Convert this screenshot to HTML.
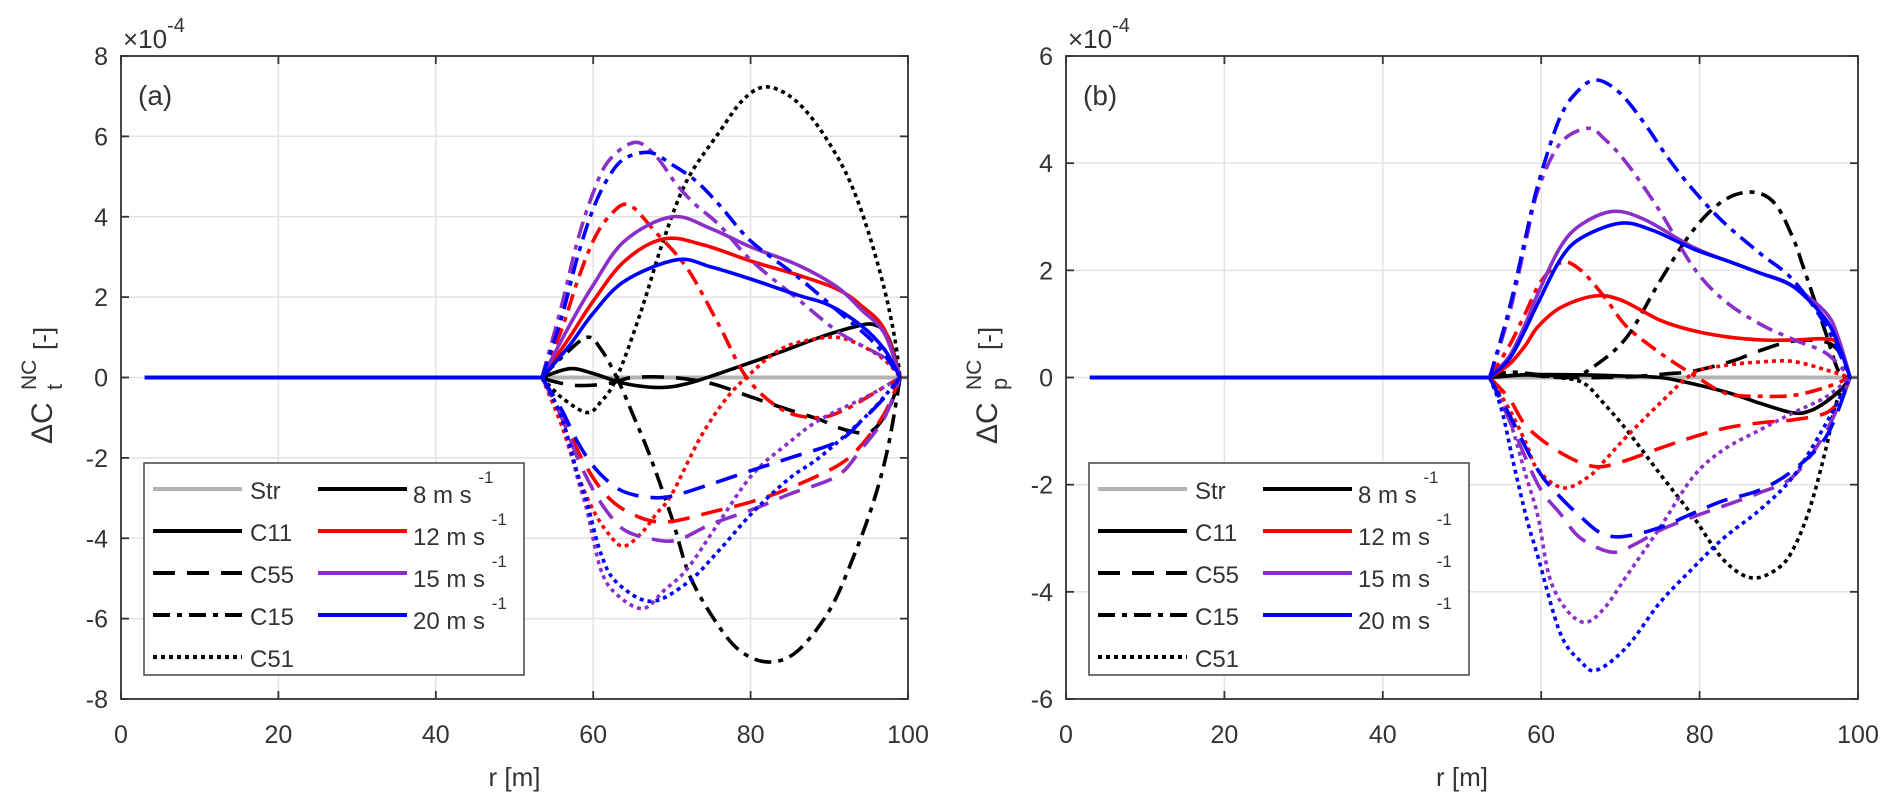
<!DOCTYPE html>
<html><head><meta charset="utf-8">
<style>
html,body{margin:0;padding:0;background:#fff;}
svg{display:block;}
text{font-family:"Liberation Sans",sans-serif;fill:#333;}
</style></head>
<body>
<svg id="fig" width="1892" height="809" viewBox="0 0 1892 809" xmlns="http://www.w3.org/2000/svg"></svg>
<script>
// ---------- data (values ×1e-4, r in m) ----------
const speeds = ["8", "12", "15", "20"];
const configs = ["C11", "C55", "C15", "C51"];
const xTicks = [0, 20, 40, 60, 80, 100];
const yTicksA = [-8, -6, -4, -2, 0, 2, 4, 6, 8];
const yTicksB = [-6, -4, -2, 0, 2, 4, 6];

// Panel (a) ΔCt
const a_C11_8  = [[53.5,0],[57,0.22],[60,0.1],[64,-0.15],[68.6,-0.25],[72,-0.15],[76,0.1],[80,0.37],[84,0.65],[88.8,1.0],[93,1.25],[95.6,1.32],[97.5,1.0],[99,0]];
const a_C11_12 = [[53.5,0],[57,1.0],[60,1.9],[64,2.9],[69,3.45],[74,3.3],[80,2.9],[86,2.55],[91,2.2],[94,1.8],[97,1.2],[99,0]];
const a_C11_15 = [[53.5,0],[57,1.3],[60,2.3],[64,3.4],[70,4.0],[75,3.7],[80,3.25],[86,2.8],[91,2.25],[94,1.7],[97,1.1],[99,0]];
const a_C11_20 = [[53.5,0],[57,0.8],[60,1.6],[64,2.4],[70.6,2.93],[75,2.75],[80,2.45],[86,2.05],[90,1.8],[94,1.3],[97,0.7],[99,0]];
const a_C55_8  = [[53.5,0],[55,-0.1],[58,-0.2],[62,-0.15],[65,0],[70,0],[75,-0.15],[80.3,-0.5],[84,-0.75],[88.8,-1.05],[92,-1.3],[95.2,-1.35],[97.5,-0.8],[99,0]];
const a_C55_12 = [[53.5,0],[56,-0.9],[58,-1.8],[60,-2.5],[62,-3.0],[64,-3.3],[67,-3.55],[70,-3.58],[75,-3.35],[80.3,-3.08],[85,-2.75],[91,-2.2],[94,-1.7],[97,-0.9],[99,0]];
const a_C55_15 = [[53.5,0],[56,-1.0],[58,-2.0],[60,-2.8],[62,-3.4],[64,-3.8],[67,-4.0],[70.6,-4.05],[75,-3.65],[80.3,-3.28],[85,-2.9],[91,-2.45],[94,-1.8],[97,-1.0],[99,0]];
const a_C55_20 = [[53.5,0],[56,-0.8],[58,-1.6],[60,-2.2],[62,-2.6],[64,-2.85],[67,-2.98],[70,-2.95],[75,-2.65],[80.3,-2.3],[85,-2.0],[91,-1.6],[94,-1.1],[97,-0.5],[99,0]];
const a_C15_8  = [[53.5,0],[56,0.5],[59.2,1.0],[61,0.7],[63,0],[65,-0.9],[67.3,-2.0],[70,-3.5],[72.3,-4.95],[76,-6.2],[79,-6.85],[82.5,-7.08],[86,-6.8],[90,-5.8],[93,-4.5],[95.6,-3.1],[97.5,-1.7],[99,0]];
const a_C15_12 = [[53.5,0],[56,1.2],[58,2.4],[60,3.4],[62,4.0],[64.5,4.3],[68,3.6],[72,2.7],[76,1.3],[79.5,0],[84,-0.8],[88.5,-1.0],[92,-0.8],[96,-0.35],[99,0]];
const a_C15_15 = [[53.5,0],[56,1.8],[58,3.4],[60,4.6],[62,5.4],[65.3,5.85],[68,5.5],[70.6,4.8],[73,4.3],[76,3.8],[80,2.93],[86,1.95],[91.4,1.1],[97.3,0.45],[99,0]];
const a_C15_20 = [[53.5,0],[56,1.5],[58,3.0],[60,4.2],[62,5.0],[64,5.45],[67.2,5.6],[70,5.3],[73,4.9],[76,4.3],[80,3.4],[86,2.5],[91.4,1.6],[96,0.8],[99,0]];
const a_C51_8  = [[53.5,0],[56,-0.5],[59.2,-0.87],[61,-0.6],[63,0],[66,1.6],[68.9,3.4],[71.9,4.9],[76,6.1],[79,6.9],[81.8,7.23],[85,7.0],[88,6.4],[91,5.5],[93,4.7],[95,3.6],[97,2.2],[98.3,1.0],[99,0]];
const a_C51_12 = [[53.5,0],[56,-1.2],[58,-2.4],[60,-3.3],[62,-3.9],[63.8,-4.2],[66,-3.9],[68,-3.4],[70,-2.9],[73.6,-1.5],[77,-0.5],[80,0.1],[83,0.6],[86,0.87],[91,1.0],[95,0.7],[97.5,0.35],[99,0]];
const a_C51_15 = [[53.5,0],[56,-1.0],[58,-2.5],[59.2,-3.3],[61,-4.8],[63,-5.4],[66.3,-5.75],[69,-5.3],[72,-4.75],[76,-3.6],[80.3,-2.4],[85,-1.6],[88.8,-1.05],[95,-0.45],[99,0]];
const a_C51_20 = [[53.5,0],[56,-1.0],[58,-2.4],[59.2,-3.1],[61,-4.4],[63,-5.1],[67.3,-5.57],[72,-5.1],[76,-4.3],[80.3,-3.35],[85,-2.5],[89,-1.95],[95,-0.9],[99,0]];

// Panel (b) ΔCp
const b_C11_8  = [[53.5,0],[58,0.05],[64,0.05],[70,0.03],[75,0],[79.2,-0.12],[84,-0.3],[87.6,-0.48],[91.8,-0.66],[94,-0.62],[96,-0.45],[98,-0.2],[99,0]];
const b_C11_12 = [[53.5,0],[56,0.25],[58,0.6],[59.6,0.95],[62.4,1.3],[66.6,1.52],[70,1.45],[75,1.07],[79,0.88],[83.4,0.76],[88,0.7],[92,0.7],[96,0.72],[97.5,0.6],[99,0]];
const b_C11_15 = [[53.5,0],[56,0.4],[58,1.0],[59.6,1.57],[62.4,2.43],[65,2.85],[69,3.1],[73,2.95],[79.2,2.43],[84,2.15],[87.6,1.95],[91.8,1.7],[96,1.2],[97.6,0.7],[99,0]];
const b_C11_20 = [[53.5,0],[56,0.35],[58,0.9],[59.6,1.39],[62.4,2.2],[65,2.6],[70,2.88],[74,2.75],[79.2,2.4],[84,2.15],[87.6,1.95],[91.8,1.7],[96,1.07],[97.8,0.5],[99,0]];
const b_C55_8  = [[53.5,0],[58,0.05],[62,0],[68,0],[72,0.02],[76,0.07],[79.2,0.12],[84,0.3],[87.6,0.5],[91.8,0.68],[96,0.66],[98,0.4],[99,0]];
const b_C55_12 = [[53.5,0],[56,-0.4],[58.2,-0.92],[62.4,-1.4],[66.6,-1.66],[70,-1.58],[75,-1.32],[79,-1.12],[83.4,-0.94],[88,-0.84],[91.8,-0.79],[96,-0.66],[98,-0.35],[99,0]];
const b_C55_15 = [[53.5,0],[56,-0.8],[59.6,-2.0],[62.4,-2.54],[65,-3.0],[69,-3.26],[72,-3.1],[75,-2.85],[79.2,-2.6],[83,-2.4],[87.6,-2.15],[91.8,-1.85],[96,-1.0],[99,0]];
const b_C55_20 = [[53.5,0],[56,-0.7],[59.6,-1.73],[62.4,-2.23],[65,-2.6],[67.5,-2.9],[70.3,-2.97],[75,-2.8],[79.2,-2.53],[83,-2.3],[87.6,-2.1],[91.8,-1.73],[96,-1.1],[99,0]];
const b_C15_8  = [[53.5,0],[56,0.1],[60,0.05],[64,0.03],[66.6,0.2],[70.8,0.75],[75,1.8],[79.2,2.75],[83,3.3],[86.6,3.46],[89.5,3.25],[91.8,2.6],[93,2.1],[94.5,1.45],[96,0.8],[97.6,0.1],[99,0]];
const b_C15_12 = [[53.5,0],[56,0.6],[58,1.2],[60,1.8],[62.6,2.15],[65,2.0],[68,1.5],[70.8,0.95],[75,0.46],[79.2,0.05],[83.4,-0.3],[88,-0.35],[92,-0.33],[96,-0.18],[99,0]];
const b_C15_15 = [[53.5,0],[56,1.2],[58,2.5],[59.6,3.5],[62.4,4.37],[65.9,4.65],[68,4.45],[70.8,4.0],[75,3.1],[79.2,2.06],[83,1.45],[87.6,1.0],[92,0.7],[96,0.45],[99,0]];
const b_C15_20 = [[53.5,0],[56,1.3],[58,2.6],[59.6,3.6],[62.4,4.86],[65,5.4],[67.2,5.55],[70,5.3],[73,4.75],[76,4.1],[79.2,3.5],[83,2.9],[87.6,2.32],[91.8,1.82],[96,0.95],[99,0]];
const b_C51_8  = [[53.5,0],[58,0.05],[62,0],[65.3,-0.1],[68,-0.5],[70.8,-0.98],[75,-1.8],[79.2,-2.6],[83,-3.4],[86.6,-3.74],[90,-3.55],[92,-3.15],[94,-2.4],[96,-1.3],[97.2,-0.5],[99,0]];
const b_C51_12 = [[53.5,0],[56,-0.6],[58,-1.2],[59.6,-1.73],[62.8,-2.06],[66,-1.85],[68,-1.55],[70.8,-1.1],[75,-0.48],[79.2,0.08],[83,0.22],[87.6,0.29],[91.8,0.3],[96,0.14],[99,0]];
const b_C51_15 = [[53.5,0],[56,-0.8],[58,-1.8],[59.6,-2.6],[61,-3.7],[63,-4.3],[65.5,-4.57],[68,-4.3],[70.8,-3.7],[75,-2.8],[79.2,-1.85],[83,-1.35],[87.6,-0.98],[91.8,-0.66],[96,-0.36],[99,0]];
const b_C51_20 = [[53.5,0],[55,-0.6],[56.5,-1.6],[58.2,-2.65],[59.6,-3.35],[62.4,-4.77],[65,-5.3],[67,-5.46],[70.8,-5.03],[75,-4.2],[79.2,-3.55],[83,-3.0],[87.6,-2.47],[91.8,-1.85],[96,-0.85],[99,0]];

const seriesA = {C11:[a_C11_8,a_C11_12,a_C11_15,a_C11_20],C55:[a_C55_8,a_C55_12,a_C55_15,a_C55_20],C15:[a_C15_8,a_C15_12,a_C15_15,a_C15_20],C51:[a_C51_8,a_C51_12,a_C51_15,a_C51_20]};
const seriesB = {C11:[b_C11_8,b_C11_12,b_C11_15,b_C11_20],C55:[b_C55_8,b_C55_12,b_C55_15,b_C55_20],C15:[b_C15_8,b_C15_12,b_C15_15,b_C15_20],C51:[b_C51_8,b_C51_12,b_C51_15,b_C51_20]};

// ---------- styles ----------
const colors = ["#000000", "#ff0000", "#8b2fc9", "#0000ff"];
const dashes = {C11:"", C55:"22 12", C15:"17 7 5 7", C51:"4 4"};
const NS = "http://www.w3.org/2000/svg";
const svg = document.getElementById('fig');

function el(tag, attrs, parent) {
  const e = document.createElementNS(NS, tag);
  for (const k in attrs) e.setAttribute(k, attrs[k]);
  (parent || svg).appendChild(e);
  return e;
}

function smoothPath(pts) {
  let d = "M" + pts[0][0].toFixed(1) + "," + pts[0][1].toFixed(1);
  for (let i = 0; i < pts.length - 1; i++) {
    const p0 = pts[Math.max(0, i - 1)], p1 = pts[i], p2 = pts[i + 1], p3 = pts[Math.min(pts.length - 1, i + 2)];
    const c1x = p1[0] + (p2[0] - p0[0]) / 6, c1y = p1[1] + (p2[1] - p0[1]) / 6;
    const c2x = p2[0] - (p3[0] - p1[0]) / 6, c2y = p2[1] - (p3[1] - p1[1]) / 6;
    d += " C" + c1x.toFixed(1) + "," + c1y.toFixed(1) + " " + c2x.toFixed(1) + "," + c2y.toFixed(1) + " " + p2[0].toFixed(1) + "," + p2[1].toFixed(1);
  }
  return d;
}

function panel(opt) {
  const g = el('g', {});
  
  
  const L = opt.left, R = opt.right, T = 56, B = 699;
  const xs = v => L + (v - 0) / 100 * (R - L);
  const ys = v => T + (opt.ymax - v) / (opt.ymax - opt.ymin) * (B - T);
  xTicks.forEach(t => {
    if (t > 0 && t < 100) {
      const gl = el('line', {x1: xs(t), x2: xs(t), y1: T, y2: B, stroke: "#e3e3e3", "stroke-width": 1.5}, g);
      
      
    }
  });
  opt.yticks.forEach(t => {
    if (t > opt.ymin && t < opt.ymax) {
      const gl = el('line', {x1: L, x2: R, y1: ys(t), y2: ys(t), stroke: "#e3e3e3", "stroke-width": 1.5}, g);
      
      
    }
  });
  const str = el('line', {x1: xs(3), x2: xs(100), y1: ys(0), y2: ys(0), stroke: "#b3b3b3", "stroke-width": 4}, g);
  
  
  speeds.forEach((s, si) => {
    configs.forEach(c => {
      const data = opt.series[c][si];
      const pts = data.map(p => [xs(p[0]), ys(p[1])]);
      const path = el('path', {d: smoothPath(pts), fill: "none", stroke: colors[si], "stroke-width": 3.6, "stroke-dasharray": dashes[c], "stroke-linejoin": "round"}, g);
      
      
    });
  });
  const flat = el('line', {x1: xs(3), x2: xs(53.5), y1: ys(0), y2: ys(0), stroke: "#0000ff", "stroke-width": 4}, g);
  
  
  const fr = el('rect', {x: L, y: T, width: R - L, height: B - T, fill: "none", stroke: "#333", "stroke-width": 1.8}, g);
  
  
  xTicks.forEach(t => {
    el('line', {x1: xs(t), x2: xs(t), y1: B, y2: B - 8, stroke: "#333", "stroke-width": 1.8}, g);
    el('line', {x1: xs(t), x2: xs(t), y1: T, y2: T + 8, stroke: "#333", "stroke-width": 1.8}, g);
    const tl = el('text', {x: xs(t), y: 743, "font-size": 25, "text-anchor": "middle"}, g);
    tl.textContent = t;
    
    
  });
  opt.yticks.forEach(t => {
    el('line', {x1: L, x2: L + 8, y1: ys(t), y2: ys(t), stroke: "#333", "stroke-width": 1.8}, g);
    el('line', {x1: R, x2: R - 8, y1: ys(t), y2: ys(t), stroke: "#333", "stroke-width": 1.8}, g);
    const tl = el('text', {x: L - 13, y: ys(t) + 9, "font-size": 25, "text-anchor": "end"}, g);
    tl.textContent = t;
    
    
  });
  const ex = el('text', {x: L + 2, y: 48, "font-size": 26}, g);
  ex.innerHTML = '×10<tspan dy="-16" font-size="20">-4</tspan>';
  
  
  const pt = el('text', {x: L + 17, y: 105, "font-size": 28, fill: "#000"}, g);
  pt.textContent = opt.tag;
  
  
  const xl = el('text', {x: (L + R) / 2, y: 786, "font-size": 26, "text-anchor": "middle"}, g);
  xl.textContent = "r [m]";
  
  
  const yl = el('text', {transform: "translate(" + (L - 69) + ",378) rotate(-90)", "font-size": 30}, g);
  yl.innerHTML = '<tspan x="-66" y="0">ΔC</tspan><tspan x="-12" y="10" font-size="22">' + opt.sub + '</tspan><tspan x="-12" y="-16" font-size="21">NC</tspan><tspan x="28" y="0" font-size="26">[-]</tspan>';
  
  
  const lx = L + 23;
  const lg = el('g', {}, g);
  
  
  el('rect', {x: lx, y: 463, width: 380, height: 212, fill: "#fff", stroke: "#444", "stroke-width": 1.5}, lg);
  const rowsY = [489, 531, 573, 615, 657];
  const names = ["Str", "C11", "C55", "C15", "C51"];
  names.forEach((n, i) => {
    const ln = el('line', {x1: lx + 9, x2: lx + 98, y1: rowsY[i], y2: rowsY[i], stroke: i === 0 ? "#b3b3b3" : "#000", "stroke-width": 4, "stroke-dasharray": i === 0 ? "" : dashes[n]}, lg);
    
    
    const tx = el('text', {x: lx + 106, y: rowsY[i] + 10, "font-size": 24, fill: "#222"}, lg);
    tx.textContent = n;
    
    
  });
  speeds.forEach((s, i) => {
    const ln = el('line', {x1: lx + 174, x2: lx + 263, y1: rowsY[i], y2: rowsY[i], stroke: colors[i], "stroke-width": 4}, lg);
    
    
    const tx = el('text', {x: lx + 269, y: rowsY[i] + 14, "font-size": 24, fill: "#222"}, lg);
    tx.innerHTML = s + ' m s <tspan dy="-20" font-size="17">-1</tspan>';
    
    
  });
}

panel({name: "panel-a", left: 121, right: 908, ymin: -8, ymax: 8, yticks: yTicksA, series: seriesA, tag: "(a)", sub: "t"});
panel({name: "panel-b", left: 1066, right: 1858, ymin: -6, ymax: 6, yticks: yTicksB, series: seriesB, tag: "(b)", sub: "p"});
</script>
</body></html>
